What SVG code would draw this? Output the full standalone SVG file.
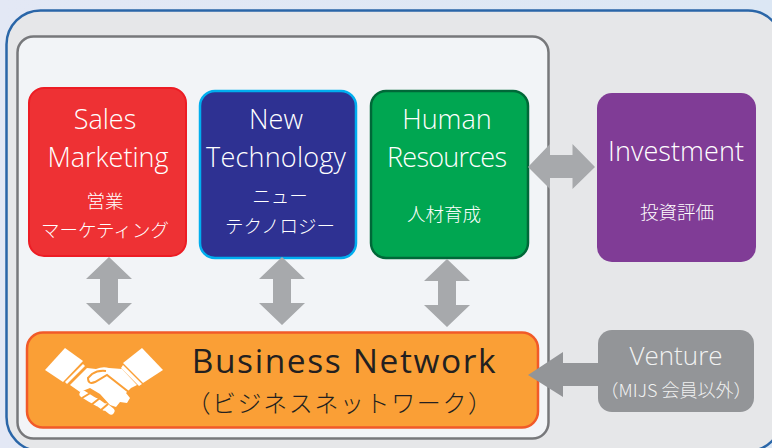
<svg xmlns="http://www.w3.org/2000/svg" width="772" height="448" viewBox="0 0 772 448">
<defs><linearGradient id="bg" x1="0" y1="0" x2="1" y2="0"><stop offset="0" stop-color="#e3e8f5"/><stop offset="1" stop-color="#dce7f4"/></linearGradient></defs>
<style>
text{font-family:"Open Sans","Noto Sans CJK JP",sans-serif;text-anchor:middle;fill:#fff}
.en{font-size:27px;font-weight:300}
.ja{font-size:18.500px;font-family:"Noto Sans CJK JP",sans-serif;font-weight:300}
.arrow{fill:#a7a9ac}
.finger{stroke:#fff;stroke-width:7;stroke-linecap:round;fill:none}
.cut{stroke:#fa9f36;stroke-width:2;fill:none}
</style>
<rect width="772" height="448" fill="url(#bg)"/>
<g id="outer"><rect x="6.500" y="10.500" width="775.500" height="440.500" rx="34" fill="#e6e7e9" stroke="#2a66a8" stroke-width="2.500"/></g>
<g id="inner"><rect x="17.500" y="36.500" width="531" height="402" rx="16" fill="#f2f4f7" stroke="#77787b" stroke-width="2.500"/></g>
<g id="sales"><rect x="29" y="88" width="157" height="168" rx="15" fill="#ee3134" stroke="#ed1c24" stroke-width="2"/>
<text class="en" x="105" y="129">Sales</text><text class="en" x="108" y="167">Marketing</text><text class="ja" x="105" y="208">営業</text><text class="ja" x="105" y="237">マーケティング</text></g>
<g id="tech"><rect x="200" y="91" width="156" height="167" rx="15" fill="#2e3192" stroke="#00aeef" stroke-width="2.500"/>
<text class="en" x="276" y="129">New</text><text class="en" x="276" y="167" textLength="140">Technology</text><text class="ja" x="280" y="203">ニュー</text><text class="ja" x="280" y="233">テクノロジー</text></g>
<g id="hr"><rect x="371" y="91" width="157" height="167" rx="15" fill="#00a651" stroke="#006838" stroke-width="2.500"/>
<text class="en" x="447" y="129">Human</text><text class="en" x="447" y="167" textLength="120">Resources</text><text class="ja" x="444" y="221">人材育成</text></g>
<g id="investment"><rect x="597" y="93" width="159" height="169" rx="15" fill="#803c96"/>
<text class="en" x="676" y="161" textLength="136">Investment</text><text class="ja" x="677" y="219">投資評価</text></g>
<g id="network"><rect x="27" y="332.500" width="511" height="95" rx="16" fill="#fa9f36" stroke="#f15a29" stroke-width="2.500"/>
<g id="handshake" fill="#fff">
<path d="M45 370L65 348L83 361L63 382Z"/><path d="M65 382L83 364L85 366L67 384Z"/>
<path d="M163 370L142 348L123 363L143 383Z"/><path d="M123 365L142 384L139 386L121 368Z"/>
<path d="M70 385L87 368L96 369Q103 366 109 368L122 369L137 385L131 388L126 393L130 398L127 403L120 402L116 407L110 405L100 394L90 388L80 392Z"/>
<path class="finger" d="M83 394L91 399M91 399L98 403M97 402L104 407M106 407L111 411"/>
<path class="cut" d="M82 398L92 392M91 405L100 398M101 410L108 404"/>
<path class="cut" d="M106 371Q98 370 92 374L88 378Q88 385 95 382L107 375L130 393"/>
</g>
<text x="344.500" y="373" style="font-size:33.500px;fill:#231f20;letter-spacing:1.600px">Business Network</text>
<text x="340" y="412" style="font-size:24px;fill:#231f20;font-family:'Noto Sans CJK JP',sans-serif;font-weight:300;letter-spacing:1.600px">（ビジネスネットワーク）</text></g>
<g id="venture"><rect x="598" y="330" width="156" height="82" rx="14" fill="#939598"/>
<text x="676" y="365" style="font-size:26px;fill:#f1f2f2;font-weight:300">Venture</text>
<text x="676" y="397" style="font-size:18px;fill:#f1f2f2;font-family:'Noto Sans CJK JP',sans-serif;font-weight:300">（MIJS 会員以外）</text></g>
<g id="connectors">
<path class="arrow" d="M109 257L132 279H118V303H132L109 325L86 303H100V279H86Z"/>
<path class="arrow" d="M282 257L305 279H291V303H305L282 325L259 303H273V279H259Z"/>
<path class="arrow" d="M447 259L470 281H456V305H470L447 327L424 305H438V281H424Z"/>
<path class="arrow" d="M528 167L550 144V155H572.500V144L595 167L572.500 189V178H550V189Z"/>
<path d="M528 375L563 352V363H600V386H563V397Z" fill="#939598"/>
</g>
</svg>
